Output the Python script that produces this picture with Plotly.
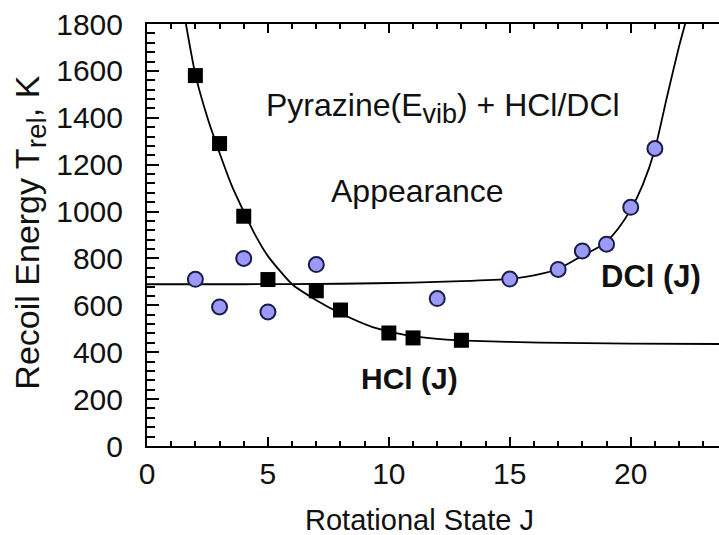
import plotly.graph_objects as go

hcl_J = [2, 3, 4, 5, 7, 8, 10, 11, 13]
hcl_T = [1580, 1290, 980, 710, 662, 580, 482, 461, 451]

dcl_J = [2, 3, 4, 5, 7, 12, 15, 17, 18, 19, 20, 21]
dcl_T = [711, 593, 800, 572, 774, 629, 712, 753, 832, 861, 1018, 1269]

# Fitted curves
hcl_fit_J = [1.61, 2, 2.5, 3, 3.5, 4, 4.5, 5, 6, 7, 8, 9.36, 10.74, 12.12, 13.5, 16.25, 20, 23.65]
hcl_fit_T = [1800, 1585, 1400, 1250, 1112, 1000, 895, 810, 690, 622, 566, 506, 472, 456, 448, 441, 437, 435]

dcl_fit_J = [0, 4, 8, 11, 13, 15, 16, 17, 18, 18.5, 19, 19.5, 20, 20.5, 21, 21.5, 22, 22.25]
dcl_fit_T = [690, 690, 692, 697, 703, 713, 728, 755, 812, 838, 872, 930, 1008, 1115, 1265, 1490, 1705, 1800]

FONT = "Arial, Liberation Sans, sans-serif"
TXT = "#111111"

fig = go.Figure()

fig.add_trace(go.Scatter(x=hcl_fit_J, y=hcl_fit_T, mode="lines",
                         line=dict(color="black", width=1.8, shape="spline", smoothing=0.6),
                         showlegend=False, hoverinfo="skip"))
fig.add_trace(go.Scatter(x=dcl_fit_J, y=dcl_fit_T, mode="lines",
                         line=dict(color="black", width=1.8, shape="spline", smoothing=0.6),
                         showlegend=False, hoverinfo="skip"))
fig.add_trace(go.Scatter(x=dcl_J, y=dcl_T, mode="markers", name="DCl (J)",
                         marker=dict(symbol="circle", size=15, color="#9b9bf7",
                                     line=dict(color="#1c1c4a", width=2)),
                         showlegend=False))
fig.add_trace(go.Scatter(x=hcl_J, y=hcl_T, mode="markers", name="HCl (J)",
                         marker=dict(symbol="square", size=15, color="black",
                                     line=dict(color="black", width=0)),
                         showlegend=False))


def font(size):
    return dict(family=FONT, size=size, color=TXT)


fig.add_annotation(x=12.23, y=1441, showarrow=False, font=font(32),
                   text="Pyrazine(E<sub><span style='font-size:27px'>vib</span></sub>) + HCl/DCl")
fig.add_annotation(x=11.17, y=1089, showarrow=False, font=font(32), text="Appearance")
fig.add_annotation(x=10.84, y=289, showarrow=False, font=font(30), text="<b>HCl (J)</b>")
fig.add_annotation(x=20.84, y=721, showarrow=False, font=font(31), text="<b>DCl (J)</b>")
# axis titles
fig.add_annotation(xref="paper", yref="paper", x=0.477, y=-0.175, showarrow=False,
                   text="Rotational State J", yanchor="middle", font=font(29))
fig.add_annotation(xref="paper", yref="paper", x=-0.205, y=0.505, textangle=-90, showarrow=False,
                   text="Recoil Energy T<sub><span style='font-size:28px'>rel</span></sub>, K",
                   xanchor="center", yanchor="middle", font=font(34))

fig.update_xaxes(range=[0, 23.65], tick0=0, dtick=5, ticks="inside", ticklen=9, tickwidth=2,
                 tickcolor="black", showline=True, linewidth=2, linecolor="black",
                 mirror="ticks", showgrid=False, zeroline=False,
                 minor=dict(ticks="inside", dtick=1, ticklen=5, tickwidth=1.5, tickcolor="black"),
                 tickfont=font(30), ticklabelstandoff=0)
fig.update_yaxes(range=[0, 1800], tick0=0, dtick=200, ticks="inside", ticklen=12, tickwidth=2,
                 tickcolor="black", showline=True, linewidth=2, linecolor="black",
                 mirror=False, showgrid=False, zeroline=False,
                 minor=dict(ticks="inside", dtick=40, ticklen=8, tickwidth=1.5, tickcolor="black"),
                 tickfont=font(30), ticklabelstandoff=16)

fig.update_layout(width=719, height=535, margin=dict(l=147, r=0, t=24, b=89, pad=0),
                  plot_bgcolor="white", paper_bgcolor="white", showlegend=False)

fig.write_html("out.html")
